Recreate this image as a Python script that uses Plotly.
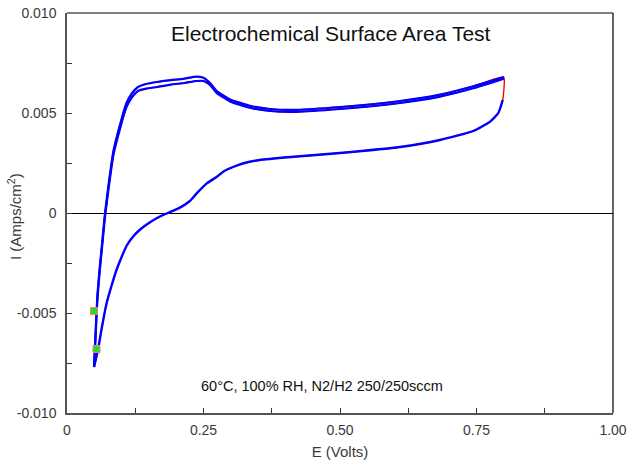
import plotly.graph_objects as go

# Anodic (forward) sweep, two cycles
anodic_E = [0.0495, 0.052, 0.054, 0.056, 0.060, 0.065, 0.0696, 0.077, 0.085, 0.092, 0.097, 0.103, 0.109,
            0.118, 0.130, 0.145, 0.165, 0.190, 0.215, 0.237, 0.250, 0.262, 0.274, 0.290, 0.2985, 0.335,
            0.372, 0.420, 0.500, 0.610, 0.683, 0.744, 0.800]
anodic_I_c1 = [-0.0077, -0.0062, -0.0050, -0.0040, -0.0027, -0.0013, 0.0000, 0.0016, 0.0031, 0.0039, 0.0044,
               0.0050, 0.0055, 0.00595, 0.0063, 0.00645, 0.00655, 0.00664, 0.00672, 0.00682, 0.00676,
               0.00650, 0.00610, 0.00582, 0.00568, 0.00536, 0.00520, 0.00516, 0.00530, 0.00560,
               0.00592, 0.00634, 0.00680]
anodic_I_c2 = [-0.0077, -0.0064, -0.0052, -0.0042, -0.0029, -0.0015, -0.0002, 0.0014, 0.0029, 0.0037, 0.0042,
               0.0048, 0.0053, 0.00575, 0.0061, 0.00622, 0.00630, 0.00642, 0.00650, 0.00660, 0.00660,
               0.00640, 0.00600, 0.00572, 0.00558, 0.00526, 0.00510, 0.00506, 0.00520, 0.00550,
               0.00582, 0.00624, 0.00672]

# Cathodic (reverse) sweep
cathodic_E = [0.798, 0.790, 0.775, 0.744, 0.683, 0.610, 0.500, 0.410, 0.353, 0.325, 0.304, 0.288, 0.274,
              0.256, 0.2375, 0.225, 0.210, 0.195, 0.180, 0.165, 0.150, 0.135, 0.122, 0.110, 0.100,
              0.090, 0.082, 0.0726, 0.064, 0.057, 0.0495]
cathodic_I = [0.00565, 0.0050, 0.00457, 0.0041, 0.00365, 0.0033, 0.0030, 0.0028, 0.00265, 0.00250, 0.00230,
              0.0021, 0.0018, 0.00148, 0.00098, 0.0006, 0.00032, 0.00012, -0.00005, -0.00025, -0.0005,
              -0.0008, -0.00115, -0.0016, -0.0022, -0.0029, -0.0036, -0.0045, -0.0057, -0.0068, -0.0077]

# Cycle start markers
start_E = [0.0495, 0.054]
start_I = [-0.0049, -0.0068]

x_ticks = [0, 0.25, 0.5, 0.75, 1.0]
x_ticktext = ["0", "0.25", "0.50", "0.75", "1.00"]
y_ticks = [-0.010, -0.005, 0, 0.005, 0.010]
y_ticktext = ["-0.010", "-0.005", "0", "0.005", "0.010"]

fig = go.Figure()

# red underlying connecting line (full loops incl. vertical switch at 0.8 V)
red_E = anodic_E + cathodic_E + anodic_E + cathodic_E
red_I = anodic_I_c1 + cathodic_I + anodic_I_c2 + cathodic_I
fig.add_trace(go.Scatter(x=red_E, y=red_I, mode="lines",
                         line=dict(color="#ff0000", width=1.4, shape="spline", smoothing=0.4),
                         hoverinfo="skip"))

for yy in (anodic_I_c1, anodic_I_c2):
    fig.add_trace(go.Scatter(x=anodic_E, y=yy, mode="lines",
                             line=dict(color="#0000ff", width=2.2, shape="spline", smoothing=0.5)))
fig.add_trace(go.Scatter(x=cathodic_E, y=cathodic_I, mode="lines",
                         line=dict(color="#0000ff", width=2.4, shape="spline", smoothing=0.5)))

fig.add_trace(go.Scatter(x=start_E, y=start_I, mode="markers",
                         marker=dict(symbol="square", size=7, color="#22dd22",
                                     line=dict(color="#ff7777", width=1))))

tick_font = dict(family="Liberation Sans, Arial, sans-serif", size=14, color="#3a3a3a")
title_font = dict(family="Liberation Sans, Arial, sans-serif", size=15, color="#3a3a3a")

fig.update_layout(
    width=633, height=465,
    margin=dict(l=67, r=20, t=13, b=52),
    paper_bgcolor="white", plot_bgcolor="white",
    showlegend=False,
    font=tick_font,
    xaxis=dict(range=[0, 1], tickvals=x_ticks, ticktext=x_ticktext, automargin=False,
               ticks="inside", ticklen=5, tickcolor="#333333",
               minor=dict(dtick=0.125, ticks="inside", ticklen=5, tickcolor="#333333"),
               showline=True, linecolor="#555555", linewidth=1.5,
               showgrid=False, zeroline=False, tickfont=tick_font, ticklabelstandoff=3,
               title=dict(text="E (Volts)", font=title_font, standoff=10)),
    yaxis=dict(range=[-0.010, 0.010], tickvals=y_ticks, ticktext=y_ticktext, automargin=False,
               ticks="inside", ticklen=5, tickcolor="#333333",
               minor=dict(dtick=0.0025, ticks="inside", ticklen=5, tickcolor="#333333"),
               showline=True, linecolor="#555555", linewidth=1.5,
               showgrid=False, zeroline=True, zerolinecolor="#000000", zerolinewidth=1,
               tickfont=tick_font, ticklabelstandoff=6),
    shapes=[
        dict(type="line", xref="paper", yref="paper", x0=0, x1=1, y0=1, y1=1,
             line=dict(color="black", width=1.2)),
        dict(type="line", xref="paper", yref="paper", x0=1, x1=1, y0=0, y1=1,
             line=dict(color="black", width=1.2)),
    ],
    annotations=[
        dict(text="Electrochemical Surface Area Test", xref="paper", yref="paper",
             x=0.483, y=0.95, xanchor="center", yanchor="middle", showarrow=False,
             font=dict(family="Liberation Sans, Arial, sans-serif", size=21, color="#111111")),
        dict(text="60°C, 100% RH, N2/H2 250/250sccm", xref="paper", yref="paper",
             x=0.4665, y=0.068, xanchor="center", yanchor="middle", showarrow=False,
             font=dict(family="Liberation Sans, Arial, sans-serif", size=14.5, color="#111111")),
        dict(text="I (Amps/cm<sup>2</sup>)", xref="paper", yref="paper",
             x=-0.097, y=0.49, xanchor="center", yanchor="middle", showarrow=False,
             textangle=-90, font=title_font),
    ],
)

fig.write_html("out.html")
